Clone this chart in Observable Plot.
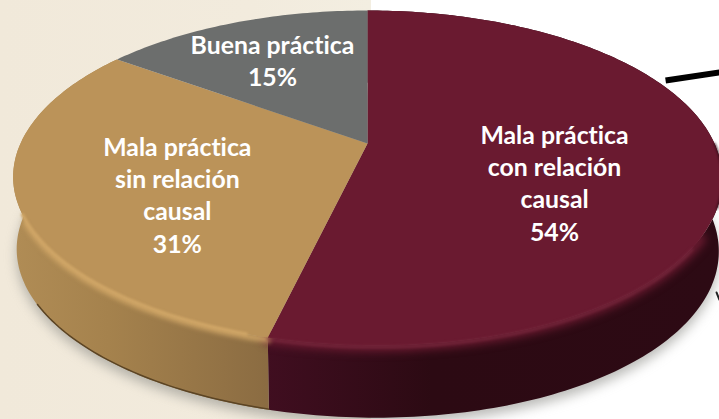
<!DOCTYPE html>
<html>
<head>
<meta charset="utf-8">
<script src="https://cdn.jsdelivr.net/npm/d3@7"></script>
<script src="https://cdn.jsdelivr.net/npm/@observablehq/plot@0.6"></script>
<style>
html,body{margin:0;padding:0;background:#fff;overflow:hidden}
svg{display:block}
svg text{font-variant-ligatures:none}
</style>
</head>
<body>
<div id="chart"></div>
<script>
const categories = ["Mala práctica\ncon relación\ncausal", "Mala práctica\nsin relación\ncausal", "Buena práctica"];
const values = [54, 31, 15];
const topColors = ["#6a1a30", "#bb9359", "#6c6e6d"];
const wallFills = ["url(#wallMaroon)", "url(#wallTan)", "#4a4a4a"];
const labelU = [0.539, -0.548, -0.274];
const labelV = [-0.24, -0.315, 0.523];
const pointerLine = [[0.859, 0.393], [1.014, 0.443]];
const cornerMark = [[1.006, -0.929], [1.014, -0.973]];

const tilt = 0.206, depth = 0.45, skew = 0.016;
const toDeg = 180 / Math.PI;
const arcs = d3.pie().sort(null)(values).map(a => ({startAngle: a.startAngle * toDeg, endAngle: a.endAngle * toDeg}));
const project = (deg, off = 0) => {
  const t = deg / toDeg, w = 1 + tilt * Math.cos(t);
  const y = Math.cos(t) / w;
  const x = Math.sin(t) / w + (y < 0 ? skew * y * y : 0);
  return {x: off > 0.3 ? x * 0.99 : x, y: y - off};
};
const arcPts = (a, b, off = 0) => d3.range(a, b, 1).concat([b]).map(d => project(d, off));
const hub = {x: 0, y: 0};

const fillPoly = (pts, fill, extra = {}) => Plot.line(pts, {x: "x", y: "y", fill, stroke: "none", curve: "linear", ...extra});
const strokeLine = (pts, stroke, strokeWidth, extra = {}) => Plot.line(pts, {x: "x", y: "y", stroke, strokeWidth, curve: "linear", ...extra});

const defs = () => {
  const d = d3.create("svg:defs");
  const grad = (id, stops) => {
    const g = d.append("linearGradient").attr("id", id).attr("gradientUnits", "userSpaceOnUse")
      .attr("x1", 0).attr("x2", 719).attr("y1", 0).attr("y2", 0);
    stops.forEach(([o, c]) => g.append("stop").attr("offset", o).attr("stop-color", c));
  };
  grad("wallTan", [[0.02, "#b08c55"], [0.15, "#a5824d"], [0.37, "#8b6c42"]]);
  grad("wallMaroon", [[0.37, "#400e20"], [0.6, "#2c0a13"], [1, "#2d0a14"]]);
  return d.node();
};

const [m, t, g] = arcs.map(a => [a.startAngle, a.endAngle]);
const marks = [
  defs,
  fillPoly(arcPts(0, 360, depth + 0.04), "#8d8d88", {imageFilter: "blur(6px)", fillOpacity: 0.6}),
  Plot.line(pointerLine, {x: d => d[0], y: d => d[1], stroke: "#000", strokeWidth: 6, strokeLinecap: "butt"}),
  Plot.line(cornerMark, {x: d => d[0], y: d => d[1], stroke: "#222", strokeWidth: 2}),
  fillPoly(arcPts(m[0], m[1]).concat(arcPts(m[0], m[1], depth).reverse()), wallFills[0]),
  fillPoly(arcPts(t[0], t[1]).concat(arcPts(t[0], t[1], depth).reverse()), wallFills[1]),
  strokeLine(arcPts(t[0], 240, depth - 0.004), "#5b4424", 1.5, {imageFilter: "blur(0.6px)"}),
  strokeLine(arcPts(122, m[1]), "#6a1a30", 12, {imageFilter: "blur(4px)"}),
  strokeLine(arcPts(t[0], 244, 0.012), "#cfa566", 6, {imageFilter: "blur(2.5px)"}),
  ...arcs.map((a, i) => fillPoly([hub, ...arcPts(a.startAngle, a.endAngle), hub], topColors[i])),
  strokeLine(arcPts(125, m[1], 0.01), "#7b2b40", 2, {imageFilter: "blur(1.5px)"}),
  strokeLine(arcPts(t[0] + 3, 246), "#cfa566", 3.5, {imageFilter: "blur(1.2px)"}),
  strokeLine(arcPts(90, 112), "#2d0a14", 1.5, {imageFilter: "blur(1px)"}),
  Plot.text(values.map((v, i) => ({text: `${categories[i]}\n${v}%`, u: labelU[i], v: labelV[i]})), {
    x: "u", y: "v", text: "text", fill: "#fff", fontSize: 24.8, fontWeight: 700,
    fontFamily: "Lato", lineHeight: 1.3, textAnchor: "middle"
  })
];

const plot = Plot.plot({
  width: 719, height: 419,
  margin: 0,
  x: {axis: null, domain: [-1, 1], range: [20, 714]},
  y: {axis: null, domain: [-1, 1], range: [303.4, -17.4]},
  style: {background: "linear-gradient(90deg,#f1e9da 0,#f2ebdd 250px,#f3eee1 371px,#fff 371px)", overflow: "hidden"},
  marks
});
document.getElementById("chart").appendChild(plot);
</script>
</body>
</html>
